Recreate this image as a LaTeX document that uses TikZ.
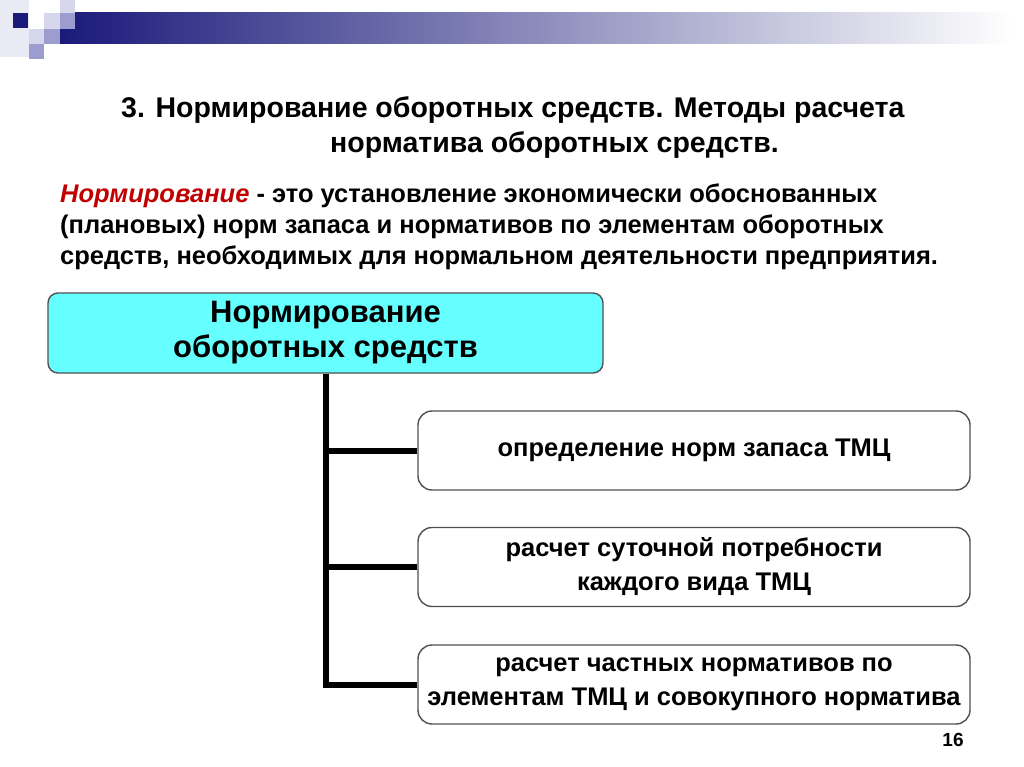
\documentclass[tikz,border=0pt]{standalone}
\usepackage{fontspec}
\setmainfont{Liberation Sans}
\usetikzlibrary{positioning}
\definecolor{navy}{RGB}{26,26,122}
\definecolor{barmid}{RGB}{196,196,218}
\definecolor{lightsq}{RGB}{214,214,236}
\definecolor{midsq}{RGB}{156,156,206}
\definecolor{paleback}{RGB}{234,234,244}
\definecolor{boxgray}{RGB}{80,80,80}
\definecolor{mainfill}{RGB}{102,255,255}
\definecolor{defred}{RGB}{192,0,0}
\begin{document}
\begin{tikzpicture}[x=1pt,y=-1pt,
	stepbox/.style={draw=boxgray, line width=1.4pt, rounded corners=14pt, fill=white,
		minimum width=552pt, minimum height=79pt, align=center,
		font=\bfseries\fontsize{25.5}{34}\selectfont},
	trunk/.style={line width=6pt}]
	\useasboundingbox (0,0) rectangle (1024,767);
	% decoration top left
	\fill[paleback] (0,0) rectangle (29,57);
	\shade[left color=navy, middle color=barmid, right color=white] (60,13) rectangle (1012,44);
	\fill[lightsq] (60,0) rectangle (75,13);
	\fill[midsq] (60,13) rectangle (75,29);
	\fill[lightsq] (44,13) rectangle (60,29);
	\fill[midsq] (44,29) rectangle (60,44);
	\fill[lightsq] (29,29) rectangle (44,44);
	\fill[midsq] (29,44) rectangle (44,59);
	\fill[navy] (13,13) rectangle (28,28);

	% title
	\node[font=\bfseries\fontsize{28.5}{35}\selectfont, anchor=west, inner sep=0pt] (title1) at (121,110)
		{3. Нормирование оборотных средств. Методы расчета};
	\node[font=\bfseries\fontsize{28.5}{35}\selectfont, anchor=west, inner sep=0pt] (title2) at (330,145)
		{норматива оборотных средств.};
	\node[font=\bfseries\fontsize{25.5}{31}\selectfont, anchor=west, align=left, inner sep=0pt] (defn) at (60,227)
		{\textcolor{defred}{\itshape Нормирование} - это установление экономически обоснованных\\
		(плановых) норм запаса и нормативов по элементам оборотных\\
		средств, необходимых для нормальном деятельности предприятия.};

	% scheme
	\node[draw=boxgray, line width=1.4pt, rounded corners=10pt, fill=mainfill, minimum width=555pt,
		minimum height=80pt, align=center, font=\bfseries\fontsize{31}{35}\selectfont] (main) at (325.5,333)
		{Нормирование\\оборотных средств};
	\node[stepbox] (norm) at (694,450.5) {определение норм запаса ТМЦ};
	\node[stepbox] (need) at (694,567) {расчет суточной потребности\\каждого вида ТМЦ};
	\node[stepbox] (total) at (694,684.5) {расчет частных нормативов по\\элементам ТМЦ и совокупного норматива};
	\draw[trunk] (main.south) |- (total.west);
	\foreach \b in {norm,need} {
		\draw[trunk] (main.south |- \b.west) -- (\b.west);
	}
	\node[font=\bfseries\fontsize{19}{22}\selectfont] (page) at (953,740) {16};
\end{tikzpicture}
\end{document}
